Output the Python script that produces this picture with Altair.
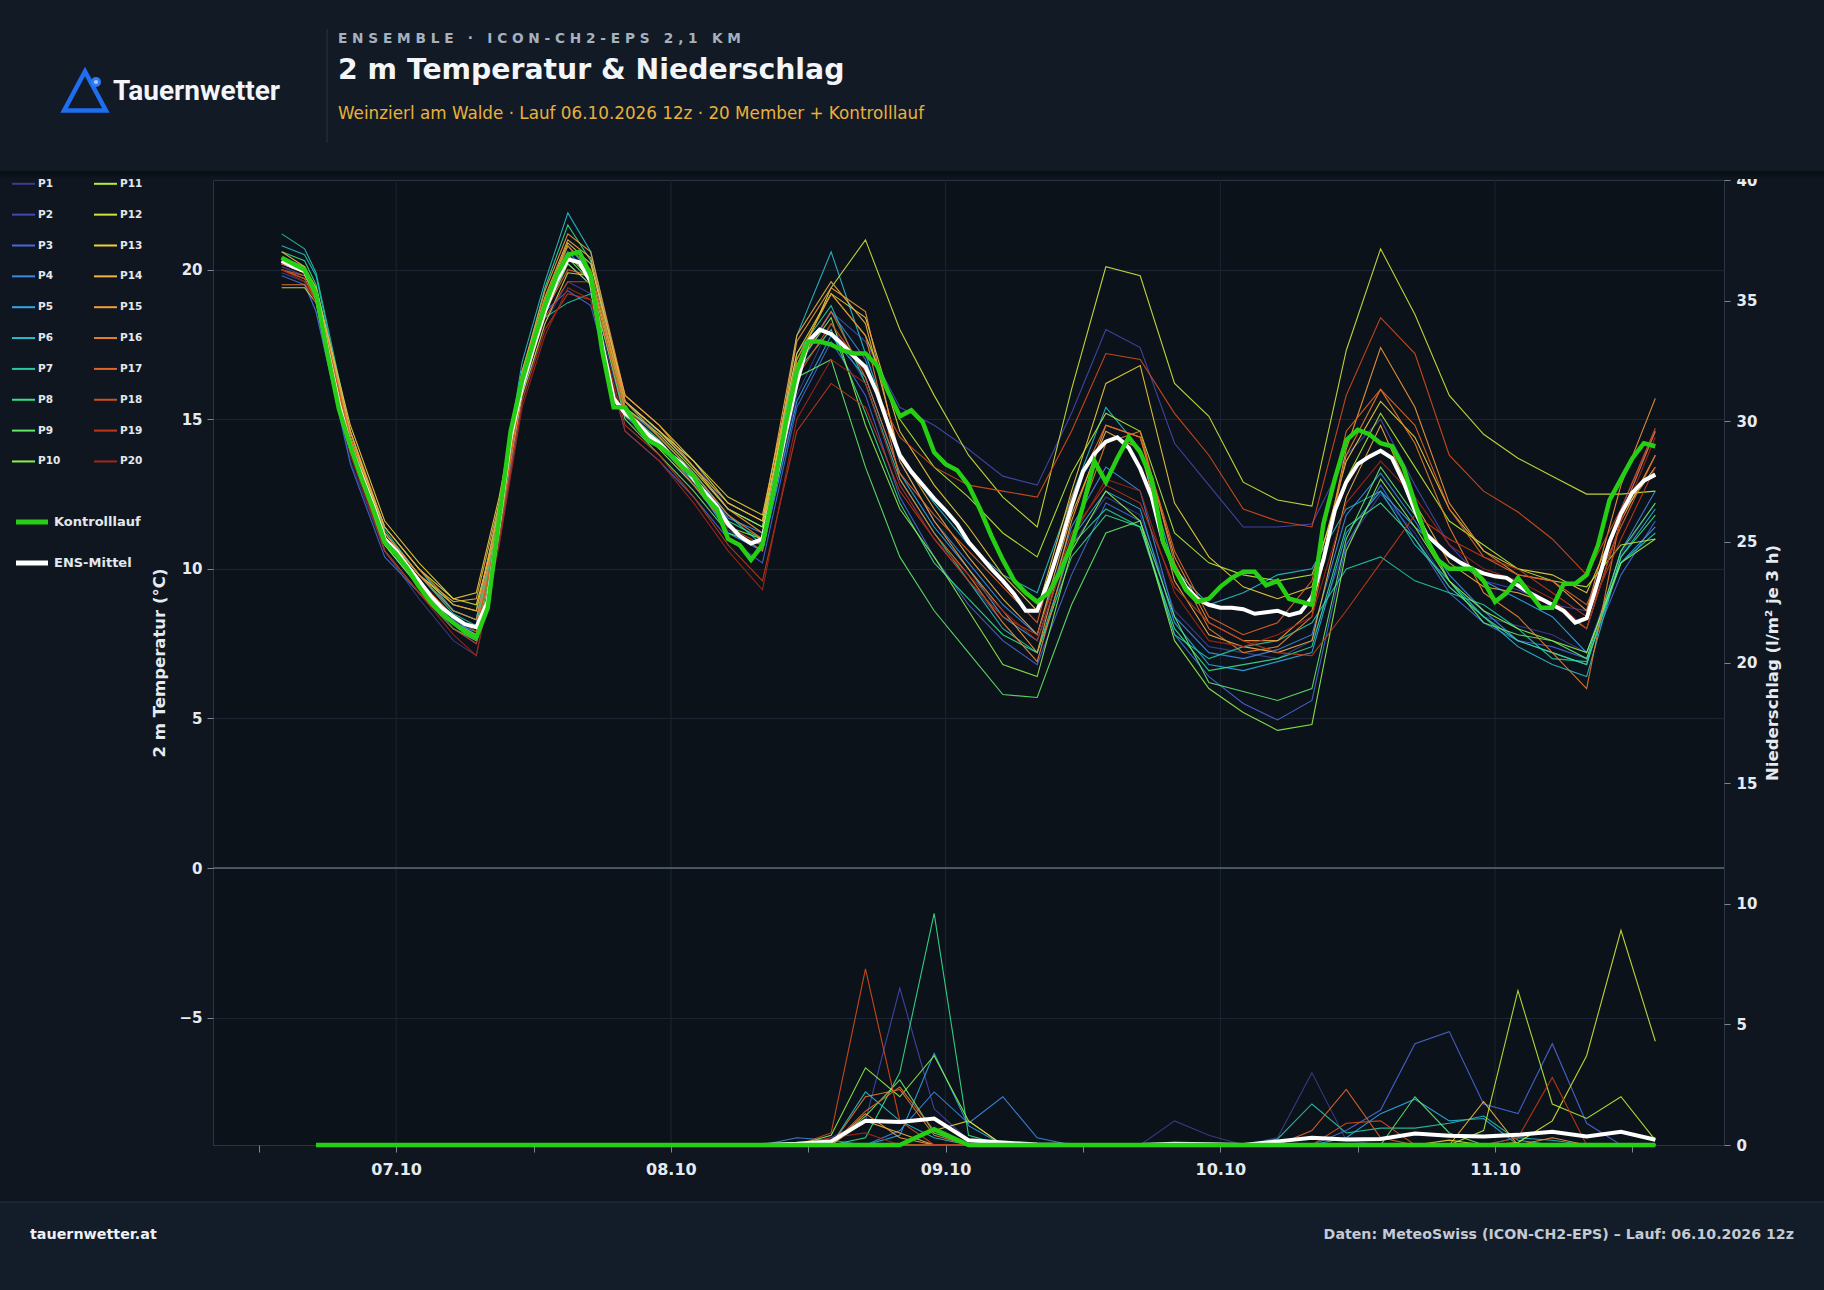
import altair as alt
import pandas as pd

# ---------------- data ----------------
MEMBERS = ["P1", "P2", "P3", "P4", "P5", "P6", "P7", "P8", "P9", "P10",
           "P11", "P12", "P13", "P14", "P15", "P16", "P17", "P18", "P19", "P20"]
MEMBER_COLORS = ["#3d3d8f", "#4548b2", "#4868d8", "#3f88e2", "#2ea8e8",
                 "#29bdcc", "#25c9a4", "#36e08a", "#63e86a", "#8ef04c",
                 "#b8ec36", "#d2e43c", "#ecd13c", "#f2b446", "#f59c3c",
                 "#e9802e", "#e2652a", "#d84c1c", "#c13a18", "#a3261a"]

# lead hours after run start (06.10.2026 12z = 14:00 local)
LEAD_HOURS = list(range(0, 121))
MEMBER_LEAD_HOURS = [0, 2, 3, 6, 9, 12, 15, 17, 19, 21, 23, 25, 27, 30, 33, 36, 39, 42,
                     45, 48, 51, 54, 57, 60, 63, 66, 69, 72, 75, 78, 81, 84, 87, 90,
                     93, 96, 99, 102, 105, 108, 111, 114, 117, 120]
PRECIP_LEAD_HOURS = list(range(3, 121, 3))

CONTROL_TEMP = [
    20.4, 20.2, 20.0, 19.2, 17.2, 15.35, 14.1, 13.0, 12.0, 10.9,
    10.5, 10.0, 9.4, 8.9, 8.5, 8.2, 7.9, 7.7, 8.7, 11.7,
    14.6, 16.3, 17.6, 18.8, 19.8, 20.5, 20.6, 19.8, 17.3, 15.4,
    15.4, 14.8, 14.3, 14.1, 13.8, 13.4, 13.1, 12.4, 12.0, 11.0,
    10.8, 10.3, 10.8, 12.7, 14.8, 16.6, 17.6, 17.6, 17.5, 17.3,
    17.2, 17.2, 16.8, 15.9, 15.1, 15.3, 14.9, 13.9, 13.5, 13.3,
    12.8, 12.0, 11.1, 10.3, 9.6, 9.2, 8.9, 9.2, 9.9, 10.8,
    12.1, 13.6, 12.9, 13.7, 14.4, 13.9, 13.0, 10.9, 10.0, 9.3,
    8.9, 9.0, 9.4, 9.7, 9.9, 9.9, 9.45, 9.6, 9.0, 8.9,
    8.8, 11.5, 13.0, 14.3, 14.65, 14.5, 14.2, 14.1, 13.4, 12.2,
    11.0, 10.3, 10.0, 10.0, 10.0, 9.6, 8.9, 9.2, 9.7, 9.2,
    8.7, 8.7, 9.5, 9.5, 9.8, 10.8, 12.3, 13.0, 13.7, 14.2,
    14.1]

MEAN_TEMP = [
    20.3, 20.1, 19.95, 19.2, 17.3, 15.5, 14.1, 13.1, 12.1, 11.0,
    10.6, 10.1, 9.6, 9.1, 8.7, 8.4, 8.15, 8.05, 8.9, 11.6,
    14.4, 16.1, 17.4, 18.6, 19.6, 20.35, 20.25, 19.6, 17.5, 15.7,
    15.2, 14.9, 14.5, 14.2, 13.8, 13.5, 13.0, 12.55, 12.1, 11.5,
    11.1, 10.85, 11.0, 12.7, 14.5, 16.2, 17.6, 18.0, 17.85, 17.5,
    17.1, 16.75, 15.9, 14.8, 13.8, 13.25, 12.8, 12.35, 11.95, 11.5,
    10.9, 10.45, 10.0, 9.6, 9.15, 8.6, 8.6, 9.6, 10.8, 12.1,
    13.25, 13.85, 14.25, 14.4, 14.05, 13.35, 12.4, 10.9, 10.0, 9.4,
    9.0, 8.8, 8.7, 8.7, 8.65, 8.5, 8.55, 8.6, 8.45, 8.55,
    9.05, 10.3, 11.95, 12.9, 13.5, 13.75, 13.95, 13.7, 12.9, 11.95,
    11.15, 10.8, 10.45, 10.2, 10.0, 9.85, 9.75, 9.7, 9.45, 9.2,
    9.0, 8.8, 8.6, 8.2, 8.35, 9.6, 10.9, 11.85, 12.55, 12.95,
    13.15]

MEMBER_TEMP = [
    [19.9, 19.6, 18.6, 13.6, 10.6, 9.0, 7.6, 7.1, 10.8, 15.6, 18.2, 19.6, 19.2, 15.0, 14.0, 12.8, 11.3, 10.6, 15.8, 18.2, 16.2, 12.8, 11.0, 9.6, 8.2, 6.9, 10.8, 12.4, 11.8, 8.6, 7.4, 7.2, 7.0, 7.6, 10.8, 12.5, 11.2, 9.4, 8.4, 8.1, 7.8, 7.2, 10.5, 12.2],
    [20.1, 19.8, 19.1, 14.2, 11.0, 9.6, 8.3, 7.8, 11.4, 16.0, 18.5, 20.2, 19.5, 15.3, 14.6, 13.6, 12.0, 11.4, 16.6, 18.6, 17.6, 15.4, 14.8, 14.0, 13.1, 12.8, 15.2, 18.0, 17.4, 14.2, 12.8, 11.4, 11.4, 11.5, 13.8, 15.0, 12.8, 10.8, 9.6, 9.3, 8.8, 8.6, 12.0, 14.6],
    [19.8, 19.5, 18.6, 13.5, 10.4, 9.2, 8.0, 7.5, 11.0, 15.8, 18.6, 19.3, 18.8, 14.6, 13.6, 12.4, 11.0, 10.2, 15.4, 17.6, 15.8, 12.4, 10.4, 8.8, 7.6, 6.8, 9.8, 12.2, 11.6, 7.8, 6.4, 5.5, 4.95, 5.6, 10.8, 12.8, 11.0, 9.2, 8.2, 7.6, 7.4, 7.0, 9.8, 11.6],
    [20.2, 19.9, 19.3, 14.3, 11.2, 9.8, 8.6, 8.3, 11.8, 16.2, 18.8, 20.6, 19.8, 15.4, 14.4, 13.2, 11.7, 11.2, 16.8, 18.6, 17.0, 13.6, 11.6, 10.2, 8.8, 7.8, 11.4, 13.4, 12.6, 8.4, 7.2, 7.0, 7.3, 7.8, 11.8, 13.2, 11.6, 9.8, 8.6, 7.6, 7.2, 6.8, 10.6, 12.6],
    [20.4, 20.0, 19.3, 14.0, 10.8, 9.4, 8.2, 7.9, 11.7, 16.4, 18.9, 20.8, 19.9, 15.1, 14.1, 12.9, 11.2, 10.6, 15.6, 17.8, 16.4, 13.2, 11.4, 10.0, 8.4, 7.6, 11.0, 12.6, 12.0, 8.2, 6.8, 6.6, 6.9, 7.2, 11.2, 12.6, 11.4, 10.4, 9.6, 9.0, 8.4, 7.2, 10.2, 11.4],
    [20.8, 20.5, 19.8, 14.4, 11.4, 10.0, 8.6, 8.3, 12.2, 16.9, 19.6, 21.9, 20.6, 15.6, 14.4, 13.2, 11.8, 10.8, 17.8, 20.6, 17.2, 13.8, 12.2, 10.8, 9.8, 9.2, 12.4, 15.4, 14.0, 10.0, 8.8, 9.2, 9.8, 10.0, 12.0, 12.6, 10.8, 9.6, 8.4, 7.4, 6.8, 6.4, 10.4, 12.0],
    [21.2, 20.7, 19.9, 14.6, 11.3, 9.8, 8.5, 8.1, 11.9, 16.6, 18.4, 18.9, 19.2, 15.6, 14.6, 13.4, 12.0, 11.4, 17.2, 18.8, 16.2, 13.0, 11.2, 9.6, 8.0, 7.2, 10.8, 12.0, 11.4, 7.8, 7.0, 7.4, 7.6, 8.2, 10.0, 10.4, 9.6, 9.2, 8.8, 8.0, 7.0, 6.9, 10.2, 11.2],
    [20.6, 20.3, 19.5, 14.4, 11.0, 9.6, 8.4, 8.0, 11.8, 16.5, 19.4, 21.5, 20.3, 15.3, 14.3, 13.0, 11.6, 11.0, 16.6, 18.0, 15.2, 12.2, 10.2, 9.0, 7.8, 7.2, 10.4, 11.8, 11.4, 8.0, 6.6, 6.8, 7.0, 7.4, 11.4, 12.2, 11.0, 9.4, 8.4, 7.6, 7.2, 6.8, 10.4, 11.8],
    [20.4, 20.1, 19.3, 14.2, 10.6, 9.2, 8.0, 7.6, 11.2, 16.0, 18.7, 20.4, 19.6, 15.0, 13.8, 12.6, 11.2, 10.8, 16.4, 17.0, 13.4, 10.4, 8.6, 7.2, 5.8, 5.7, 8.8, 11.2, 11.6, 8.4, 6.2, 5.9, 5.6, 6.0, 11.0, 13.4, 11.8, 9.6, 8.2, 7.8, 7.6, 7.0, 10.6, 12.2],
    [20.2, 19.9, 19.2, 14.0, 10.8, 9.4, 8.2, 7.8, 11.4, 16.2, 18.6, 20.2, 19.5, 15.2, 14.0, 12.8, 11.4, 11.0, 16.8, 18.4, 14.8, 12.0, 10.4, 8.6, 6.8, 6.4, 10.6, 12.6, 11.6, 7.6, 6.0, 5.2, 4.6, 4.8, 10.6, 13.0, 11.4, 9.6, 8.6, 8.0, 7.6, 7.2, 10.2, 11.0],
    [20.0, 19.7, 19.0, 14.2, 11.2, 9.8, 8.8, 8.6, 12.0, 16.2, 18.8, 20.5, 19.7, 15.4, 14.5, 13.3, 12.0, 11.4, 17.0, 19.2, 17.8, 15.0, 13.4, 12.4, 11.2, 10.4, 13.2, 15.2, 14.6, 11.2, 10.2, 9.8, 9.6, 9.8, 13.0, 15.2, 13.4, 11.6, 10.8, 10.0, 9.6, 9.4, 10.8, 11.0],
    [19.4, 19.4, 18.9, 14.4, 11.4, 10.0, 9.0, 8.8, 11.6, 15.8, 18.2, 19.9, 19.8, 15.6, 14.6, 13.6, 12.2, 11.6, 16.8, 19.4, 21.0, 18.0, 15.8, 13.8, 12.4, 11.4, 16.0, 20.1, 19.8, 16.2, 15.1, 12.9, 12.3, 12.1, 17.3, 20.7, 18.5, 15.8, 14.5, 13.7, 13.1, 12.5, 12.5, 12.6],
    [20.4, 20.0, 19.4, 14.8, 11.6, 10.2, 9.0, 9.2, 12.4, 16.5, 19.0, 20.9, 20.2, 15.8, 14.8, 13.6, 12.4, 11.8, 17.2, 19.2, 18.4, 14.6, 12.8, 11.4, 9.8, 8.6, 12.6, 16.2, 16.8, 12.2, 10.4, 9.4, 9.0, 9.4, 13.6, 15.6, 14.4, 12.0, 10.6, 10.0, 9.8, 9.2, 11.8, 13.4],
    [20.6, 20.1, 19.4, 14.6, 11.2, 9.8, 8.9, 9.0, 12.2, 16.6, 19.1, 21.0, 20.4, 15.6, 14.6, 13.4, 12.2, 11.6, 17.8, 19.6, 18.2, 13.8, 12.0, 10.4, 9.0, 7.8, 11.8, 14.6, 14.0, 9.6, 7.8, 7.4, 7.2, 7.6, 12.4, 14.8, 12.2, 10.2, 9.4, 9.2, 8.8, 8.0, 11.6, 13.8],
    [20.2, 19.9, 19.3, 14.6, 11.4, 10.0, 8.8, 8.6, 12.0, 16.6, 19.3, 21.2, 20.6, 15.8, 14.8, 13.4, 12.0, 11.2, 17.6, 19.4, 18.6, 13.6, 11.6, 10.0, 8.6, 7.2, 11.6, 14.8, 14.4, 10.4, 8.2, 7.6, 7.6, 8.6, 14.0, 17.4, 15.4, 12.2, 10.6, 9.8, 9.6, 8.6, 12.8, 15.7],
    [19.5, 19.5, 19.0, 14.4, 11.2, 9.8, 8.6, 8.3, 11.8, 16.4, 19.0, 20.8, 20.0, 15.6, 14.4, 13.2, 11.8, 11.0, 17.0, 19.2, 17.8, 13.0, 11.2, 9.8, 8.2, 6.9, 11.0, 14.2, 14.6, 10.2, 8.0, 7.2, 7.4, 8.4, 13.8, 16.0, 14.2, 11.4, 9.2, 8.4, 7.2, 6.0, 11.8, 14.6],
    [20.0, 19.8, 19.2, 14.4, 11.0, 9.6, 8.4, 8.0, 11.5, 16.2, 18.6, 20.0, 19.8, 15.4, 14.2, 12.8, 11.4, 10.6, 16.8, 18.6, 16.4, 13.2, 11.8, 10.6, 9.4, 8.2, 12.4, 14.8, 14.4, 10.6, 8.4, 7.8, 8.2, 9.6, 14.6, 16.0, 14.8, 12.0, 10.4, 9.8, 9.6, 8.8, 11.4, 13.8],
    [20.2, 19.9, 19.3, 14.2, 11.0, 9.6, 8.4, 7.9, 11.3, 16.0, 18.4, 19.6, 19.6, 15.2, 14.2, 13.0, 11.4, 10.8, 16.4, 18.2, 16.6, 14.4, 13.4, 12.8, 12.6, 12.4, 14.6, 17.2, 17.0, 15.2, 13.8, 12.0, 11.6, 11.4, 15.8, 18.4, 17.2, 13.8, 12.6, 11.9, 11.0, 9.8, 12.0, 14.7],
    [20.0, 19.7, 19.0, 14.0, 10.6, 9.2, 8.0, 7.5, 11.0, 15.6, 18.0, 19.2, 19.0, 14.8, 13.8, 12.4, 10.8, 9.6, 14.6, 16.2, 15.4, 12.6, 11.0, 9.6, 8.4, 7.8, 11.2, 12.8, 12.2, 9.4, 8.2, 7.6, 7.2, 7.1, 8.6, 10.2, 11.8, 11.0, 10.4, 10.0, 9.2, 8.4, 11.0, 13.4],
    [20.0, 19.6, 18.9, 13.8, 10.6, 9.2, 7.8, 7.1, 10.8, 15.4, 17.8, 19.4, 19.0, 14.6, 13.6, 12.2, 10.6, 9.3, 15.0, 17.0, 16.2, 12.8, 11.0, 9.8, 8.6, 7.6, 11.0, 13.0, 12.6, 9.2, 7.6, 7.4, 7.8, 8.4, 12.2, 13.6, 12.4, 10.8, 10.0, 9.6, 9.0, 8.0, 11.6, 14.4],
]

# 3-hourly precipitation (l/m^2), valid at PRECIP_LEAD_HOURS
CONTROL_PRECIP = [0, 0, 0, 0, 0, 0, 0, 0, 0, 0,
                  0, 0, 0, 0, 0, 0, 0, 0, 0.65, 0,
                  0, 0, 0, 0, 0, 0, 0, 0, 0, 0,
                  0, 0, 0, 0, 0, 0, 0, 0, 0, 0]
MEAN_PRECIP = [0, 0, 0, 0, 0, 0, 0, 0, 0, 0,
               0, 0, 0, 0, 0.05, 0.15, 1.0, 0.95, 1.1, 0.2,
               0.1, 0.02, 0, 0, 0, 0.05, 0.03, 0, 0.15, 0.3,
               0.23, 0.25, 0.48, 0.38, 0.35, 0.42, 0.55, 0.35, 0.55, 0.22]
MEMBER_PRECIP = [
    [0, 0, 0, 0, 0, 0, 0, 0, 0, 0, 0, 0, 0, 0, 0, 0, 0, 0, 0, 0, 0, 0, 0, 0, 0, 1.0, 0.4, 0, 0.3, 3.0, 0.2, 0, 0, 0, 0, 0, 0, 0, 0, 0],
    [0, 0, 0, 0, 0, 0, 0, 0, 0, 0, 0, 0, 0, 0, 0, 0.3, 1.0, 6.5, 1.5, 0.2, 0, 0, 0, 0, 0, 0, 0, 0, 0, 0, 0, 0, 0, 0, 0, 0, 0, 0, 0, 0],
    [0, 0, 0, 0, 0, 0, 0, 0, 0, 0, 0, 0, 0, 0, 0, 0, 0, 0, 0, 0, 0, 0, 0, 0, 0, 0, 0, 0, 0, 0, 0.6, 1.45, 4.2, 4.7, 1.7, 1.3, 4.2, 0.9, 0, 0],
    [0, 0, 0, 0, 0, 0, 0, 0, 0, 0, 0, 0, 0, 0, 0.3, 0.2, 0, 0.6, 2.2, 0.9, 2.0, 0.3, 0, 0, 0, 0, 0, 0, 0, 0, 0, 0, 0, 0, 0, 0, 0, 0, 0, 0],
    [0, 0, 0, 0, 0, 0, 0, 0, 0, 0, 0, 0, 0, 0, 0, 0, 0, 0.4, 3.8, 0.8, 0, 0, 0, 0, 0, 0, 0, 0, 0, 0, 0.3, 1.3, 1.9, 1.0, 1.1, 0, 0, 0, 0, 0],
    [0, 0, 0, 0, 0, 0, 0, 0, 0, 0, 0, 0, 0, 0, 0, 0, 2.2, 1.0, 0.3, 0, 0, 0, 0, 0, 0, 0, 0, 0, 0, 0, 0, 0, 0, 0, 0, 0.3, 0.2, 0, 0, 0],
    [0, 0, 0, 0, 0, 0, 0, 0, 0, 0, 0, 0, 0, 0, 0, 0, 0, 0, 0, 0, 0, 0, 0, 0, 0, 0, 0, 0, 0.25, 1.7, 0.5, 0.7, 0.7, 0.9, 1.2, 0.2, 0, 0, 0, 0],
    [0, 0, 0, 0, 0, 0, 0, 0, 0, 0, 0, 0, 0, 0, 0, 0, 0.3, 3.0, 9.6, 0.4, 0, 0, 0, 0, 0, 0, 0, 0, 0, 0, 0, 0, 0, 0, 0, 0, 0, 0, 0, 0],
    [0, 0, 0, 0, 0, 0, 0, 0, 0, 0, 0, 0, 0, 0, 0, 0, 1.2, 2.7, 0.5, 0, 0, 0, 0, 0, 0, 0, 0, 0, 0, 0, 0, 0, 2.0, 0.5, 0, 0, 0, 0, 0, 0],
    [0, 0, 0, 0, 0, 0, 0, 0, 0, 0, 0, 0, 0, 0, 0, 0.4, 3.2, 2.0, 3.7, 1.0, 0, 0, 0, 0, 0, 0, 0, 0, 0, 0, 0, 0, 0, 0, 0, 0, 0, 0, 0, 0],
    [0, 0, 0, 0, 0, 0, 0, 0, 0, 0, 0, 0, 0, 0, 0, 0, 0, 0, 0, 0, 0, 0, 0, 0, 0, 0, 0, 0, 0, 0, 0, 0, 0, 0, 0.6, 6.4, 1.7, 1.1, 2.0, 0.2],
    [0, 0, 0, 0, 0, 0, 0, 0, 0, 0, 0, 0, 0, 0, 0, 0, 0, 0, 0, 0, 0, 0, 0, 0, 0, 0, 0, 0, 0, 0, 0, 0, 0, 0, 0, 0.1, 1.0, 3.7, 8.9, 4.3],
    [0, 0, 0, 0, 0, 0, 0, 0, 0, 0, 0, 0, 0, 0, 0, 0, 0, 0, 0.6, 1.0, 0, 0, 0, 0, 0, 0, 0, 0, 0, 0, 0, 0, 0, 0.2, 0, 0, 0, 0, 0, 0],
    [0, 0, 0, 0, 0, 0, 0, 0, 0, 0, 0, 0, 0, 0, 0, 0, 1.0, 0.5, 0, 0, 0, 0, 0, 0, 0, 0, 0, 0, 0, 0, 0, 0, 0, 0, 1.8, 0, 0, 0, 0, 0],
    [0, 0, 0, 0, 0, 0, 0, 0, 0, 0, 0, 0, 0, 0, 0, 0, 1.3, 0.3, 0, 0, 0, 0, 0, 0, 0, 0, 0, 0, 0, 0, 0, 0, 0, 0, 0, 0, 0.3, 0, 0, 0],
    [0, 0, 0, 0, 0, 0, 0, 0, 0, 0, 0, 0, 0, 0, 0, 0, 2.0, 2.3, 0.4, 0, 0, 0, 0, 0, 0, 0, 0, 0, 0, 0, 0, 0, 0, 0, 0, 0, 0, 0, 0, 0],
    [0, 0, 0, 0, 0, 0, 0, 0, 0, 0, 0, 0, 0, 0, 0, 0, 1.4, 2.4, 0.6, 0, 0, 0, 0, 0, 0, 0, 0, 0, 0, 0.6, 2.3, 0.3, 0, 0, 0, 0, 0, 0, 0, 0],
    [0, 0, 0, 0, 0, 0, 0, 0, 0, 0, 0, 0, 0, 0, 0, 0.5, 7.3, 1.0, 0, 0, 0, 0, 0, 0, 0, 0, 0, 0, 0, 0, 0.9, 1.0, 0, 0, 0, 0, 0, 0, 0, 0],
    [0, 0, 0, 0, 0, 0, 0, 0, 0, 0, 0, 0, 0, 0, 0, 0, 0, 0, 0, 0, 0, 0, 0, 0, 0, 0, 0, 0, 0, 0, 0, 0, 0, 0, 0, 0.3, 2.8, 0, 0, 0],
    [0, 0, 0, 0, 0, 0, 0, 0, 0, 0, 0, 0, 0, 0, 0, 0.3, 0.5, 0, 0, 0, 0, 0, 0, 0, 0, 0, 0, 0, 0, 0, 0, 0, 0, 0, 0, 0, 0, 0, 0, 0],
]

DAY_TICKS = [-2, 10, 22, 34, 46, 58, 70, 82, 94, 106, 118]
DAY_LABELS = {10: "07.10", 34: "08.10", 58: "09.10", 82: "10.10", 106: "11.10"}
DAY_BOUNDARIES = [10, 34, 58, 82, 106]
TEMP_TICKS = [-5, 0, 5, 10, 15, 20]
PRECIP_TICKS = [0, 5, 10, 15, 20, 25, 30, 35, 40]

TITLE_SMALL = "ENSEMBLE · ICON-CH2-EPS 2,1 KM"
TITLE = "2 m Temperatur & Niederschlag"
SUBTITLE = "Weinzierl am Walde · Lauf 06.10.2026 12z · 20 Member + Kontrolllauf"
FOOTER_LEFT = "tauernwetter.at"
FOOTER_RIGHT = "Daten: MeteoSwiss (ICON-CH2-EPS) – Lauf: 06.10.2026 12z"

# ---------------- tables ----------------
temp_rows = []
for name, vals in zip(MEMBERS, MEMBER_TEMP):
    for h, v in zip(MEMBER_LEAD_HOURS, vals):
        temp_rows.append({"member": name, "lead": h, "temp": v})
temp_members = pd.DataFrame(temp_rows)

precip_rows = []
for name, vals in zip(MEMBERS, MEMBER_PRECIP):
    for h, v in zip(PRECIP_LEAD_HOURS, vals):
        precip_rows.append({"member": name, "lead": h, "precip": v})
precip_members = pd.DataFrame(precip_rows)

control_t = pd.DataFrame({"lead": LEAD_HOURS, "temp": CONTROL_TEMP})
mean_t = pd.DataFrame({"lead": LEAD_HOURS, "temp": MEAN_TEMP})
control_p = pd.DataFrame({"lead": PRECIP_LEAD_HOURS, "precip": CONTROL_PRECIP})
mean_p = pd.DataFrame({"lead": PRECIP_LEAD_HOURS, "precip": MEAN_PRECIP})

# ---------------- style ----------------
FONT = "DejaVu Sans"
GREEN = "#26cf14"
WHITE = "#ffffff"
GRID = "#1c2531"
TEXT = "#e6ebf1"

label_expr = " : ".join(f"datum.value == {k} ? '{v}'" for k, v in DAY_LABELS.items()) + " : ''"

X = alt.X("lead:Q",
          scale=alt.Scale(domain=[-6, 126], nice=False, zero=False),
          axis=alt.Axis(values=DAY_TICKS, labelExpr=label_expr, grid=False, title=None,
                        tickSize=7, labelPadding=9, labelFontSize=16, labelFlush=False,
                        labelOverlap=False))
Y_T = alt.Y("temp:Q",
            scale=alt.Scale(domain=[-9.26, 23.0], nice=False, zero=False),
            axis=alt.Axis(values=TEMP_TICKS, orient="left", grid=True, gridColor=GRID,
                          title="2 m Temperatur (°C)", titlePadding=11, tickSize=6,
                          labelPadding=5, labelFontSize=15))
Y_P = alt.Y("precip:Q",
            scale=alt.Scale(domain=[0, 40], nice=False, zero=True),
            axis=alt.Axis(values=PRECIP_TICKS, orient="right", grid=False,
                          title="Niederschlag (l/m² je 3 h)", titleAngle=270,
                          titleBaseline="top", titlePadding=8, tickSize=6,
                          labelPadding=6, labelFontSize=15))
COLOR = alt.Color("member:N", scale=alt.Scale(domain=MEMBERS, range=MEMBER_COLORS), legend=None)

DUMMY = pd.DataFrame({"k": [0]})


def text(s, x, y, size, color, weight="bold", align="left", font=FONT, baseline="alphabetic"):
    return alt.Chart(DUMMY).mark_text(text=s, align=align, baseline=baseline, font=font,
                                      fontSize=size, fontWeight=weight, color=color).encode(
        x=alt.value(x), y=alt.value(y))


def rect(x, x2, y, y2, color):
    return alt.Chart(DUMMY).mark_rect(color=color).encode(
        x=alt.value(x), x2=alt.value(x2), y=alt.value(y), y2=alt.value(y2))


def hrule(x, x2, y, color, width):
    return alt.Chart(DUMMY).mark_rule(color=color, strokeWidth=width).encode(
        x=alt.value(x), x2=alt.value(x2), y=alt.value(y))


# ----- header / footer (positions relative to plot origin) -----
header = rect(-213, 1611, -180, -9, "#121a26")
shadow = alt.Chart(DUMMY).mark_rect(
    color=alt.LinearGradient(gradient="linear",
                             stops=[alt.GradientStop(color="#090d13", offset=0),
                                    alt.GradientStop(color="#0f161f", offset=1)],
                             x1=0, x2=0, y1=0, y2=1)).encode(
    x=alt.value(-213), x2=alt.value(1611), y=alt.value(-9), y2=alt.value(-1))
divider = alt.Chart(DUMMY).mark_rule(color="#29323f", strokeWidth=1).encode(
    x=alt.value(114), y=alt.value(-151), y2=alt.value(-37))
spaced = "\u00a0".join(list(TITLE_SMALL)).replace("\u00a0 \u00a0", "\u00a0\u00a0\u00a0")
t_small = text(spaced, 125, -137, 13.7, "#a6b1c0")
t_main = text(TITLE, 125, -101, 28.3, "#f3f5f8")
t_sub = text(SUBTITLE, 125, -61, 16.8, "#e8b13c", weight="normal")
logo_tri = alt.Chart(DUMMY).mark_point(
    shape="M0,-0.93L1,0.93L-1,0.93Z", filled=False, size=1750, strokeWidth=4.5,
    color="#1f6ef0", opacity=1).encode(x=alt.value(-128), y=alt.value(-89))
logo_dot = alt.Chart(DUMMY).mark_point(shape="circle", filled=True, size=100,
                                       color="#2f7bf5", opacity=1).encode(
    x=alt.value(-117), y=alt.value(-98))
logo_dot2 = alt.Chart(DUMMY).mark_point(shape="circle", filled=True, size=18,
                                        color="#a8c8ff", opacity=1).encode(
    x=alt.value(-117), y=alt.value(-98))
logo_text = text("Tauernwetter", -100, -80, 28, "#f3f5f8", font="Roboto")

footer = rect(-213, 1611, 1022, 1110, "#131c29")
footer_line = hrule(-213, 1611, 1022, "#263040", 1)
f_left = text(FOOTER_LEFT, -183, 1059, 14.3, "#eef1f5")
f_right = text(FOOTER_RIGHT, 1581, 1059, 14.2, "#c3cad4", align="right")

# ----- custom legend -----
leg_rows = []
for idx, name in enumerate(MEMBERS):
    col, row = divmod(idx, 10)
    x0 = -201 + col * 82
    leg_rows.append({"member": name, "lx": x0, "lx2": x0 + 23, "ltx": x0 + 26,
                     "ly": 3.8 + row * 30.85})
leg_df = pd.DataFrame(leg_rows)
leg_lines = alt.Chart(leg_df).mark_rule(strokeWidth=2).encode(
    x=alt.X("lx:Q", scale=None, axis=None), x2="lx2:Q",
    y=alt.Y("ly:Q", scale=None, axis=None), color=COLOR)
leg_text = alt.Chart(leg_df).mark_text(align="left", baseline="middle", font=FONT,
                                       fontSize=10.5, fontWeight="bold", color="#e3e8ee").encode(
    x=alt.X("ltx:Q", scale=None, axis=None), y=alt.Y("ly:Q", scale=None, axis=None),
    text="member:N")
leg_ctrl = hrule(-197, -165, 342, GREEN, 5)
leg_ctrl_t = text("Kontrolllauf", -159, 342, 13, "#e3e8ee", baseline="middle")
leg_mean = hrule(-197, -165, 383, WHITE, 5)
leg_mean_t = text("ENS-Mittel", -159, 383, 13, "#e3e8ee", baseline="middle")

# ----- plot layers -----
day_grid = alt.Chart(pd.DataFrame({"lead": DAY_BOUNDARIES})).mark_rule(
    color=GRID, strokeWidth=1).encode(x=X)
zero_line = alt.Chart(pd.DataFrame({"temp": [0]})).mark_rule(
    color="#5d6a79", strokeWidth=1.5).encode(y=Y_T)

t_members = alt.Chart(temp_members).mark_line(strokeWidth=1.1, opacity=0.9).encode(
    x=X, y=Y_T, color=COLOR, detail="member:N")
t_mean = alt.Chart(mean_t).mark_line(color=WHITE, strokeWidth=4).encode(x=X, y=Y_T)
t_ctrl = alt.Chart(control_t).mark_line(color=GREEN, strokeWidth=4.5).encode(x=X, y=Y_T)

p_members = alt.Chart(precip_members).mark_line(strokeWidth=1.1, opacity=0.9).encode(
    x=X, y=Y_P, color=COLOR, detail="member:N")
p_mean = alt.Chart(mean_p).mark_line(color=WHITE, strokeWidth=4).encode(x=X, y=Y_P)
p_ctrl = alt.Chart(control_p).mark_line(color=GREEN, strokeWidth=4.5).encode(x=X, y=Y_P)

temp_layer = alt.layer(
    header, shadow, divider, t_small, t_main, t_sub, logo_tri, logo_dot, logo_dot2, logo_text,
    footer, footer_line, f_left, f_right,
    leg_lines, leg_text, leg_ctrl, leg_ctrl_t, leg_mean, leg_mean_t,
    day_grid, zero_line, t_members, t_mean, t_ctrl)
precip_layer = alt.layer(p_members, p_mean, p_ctrl)

chart = alt.layer(temp_layer, precip_layer).resolve_scale(
    y="independent"
).properties(
    width=1511, height=965,
    padding={"left": 213, "top": 180, "right": 100, "bottom": 145},
    autosize=alt.AutoSizeParams(type="none"),
    background="#0f161f",
).configure_view(
    fill="#0c1219", stroke="#2a3543", strokeWidth=1
).configure_axis(
    labelFont=FONT, labelFontWeight="bold", labelColor=TEXT,
    titleFont=FONT, titleFontWeight="bold", titleColor=TEXT, titleFontSize=16.5,
    tickColor="#7d8896", domain=False
)

chart.save("out.html", embed_options={"renderer": "svg", "actions": False})
